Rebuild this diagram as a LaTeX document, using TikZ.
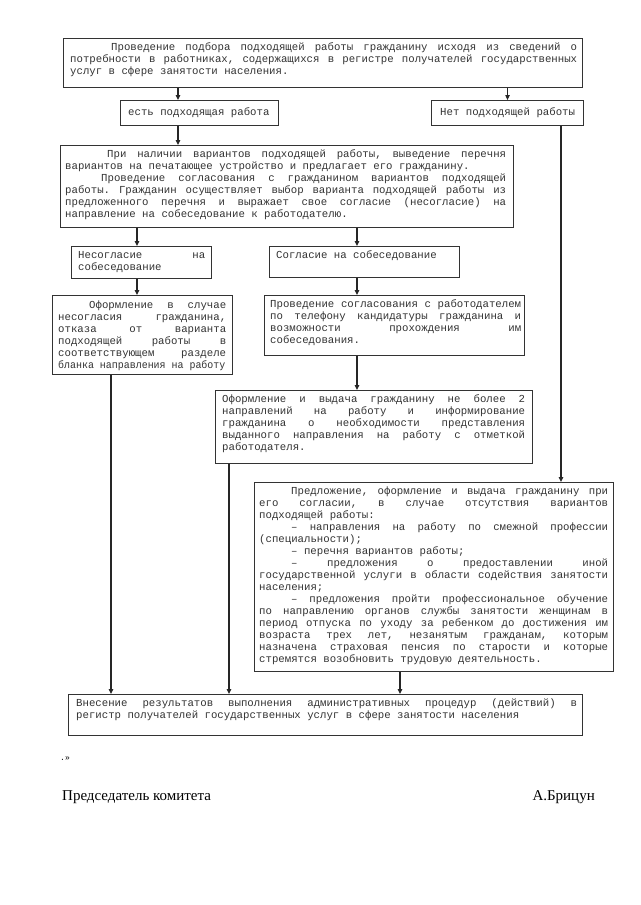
\documentclass[tikz,border=0pt]{standalone}
\usepackage{fontspec}
\usepackage{graphicx}
\setmainfont{Liberation Serif}
\newfontfamily\courfam{Liberation Mono}
\usetikzlibrary{arrows.meta}
\newcommand\boxfont{\courfam\fontsize{10.7}{12}\selectfont\frenchspacing
  \spaceskip=6.42pt plus 100pt\relax\xspaceskip=6.42pt plus 100pt\relax
  \leftskip=0pt\relax\rightskip=0pt\relax
  \parfillskip=0pt plus 1fil\relax\tolerance=10000\hbadness=10000
  \hyphenpenalty=10000\exhyphenpenalty=10000\parindent=0pt\relax}
\newcommand\ind[1]{\noindent\hspace*{#1}}
\begin{document}
\begin{tikzpicture}[x=1pt,y=-1pt,
  box/.style={draw=black!80, line width=1.1pt, inner sep=0pt, anchor=north west},
  txt/.style={anchor=base west, inner sep=0pt, align=justify, text=black!80, text width=#1},
  lbl/.style={anchor=base west, inner sep=0pt, text=black!80},
  arr/.style={draw=black!85, line width=1.1pt, -{Triangle[length=5pt,width=4.5pt]}}]
\fill[white] (0,0) rectangle (640,905);
\useasboundingbox (0,0) rectangle (640,905);

% boxes
\node[box, minimum width=519pt, minimum height=49pt] (b1) at (63,38) {};
\node[box, minimum width=158pt, minimum height=25pt] (b2) at (120,100) {};
\node[box, minimum width=152pt, minimum height=25pt] (b3) at (431,100) {};
\node[box, minimum width=453pt, minimum height=82pt] (b4) at (60,145) {};
\node[box, minimum width=140pt, minimum height=32pt] (b5) at (71,246) {};
\node[box, minimum width=190pt, minimum height=31pt] (b6) at (269,246) {};
\node[box, minimum width=180pt, minimum height=79pt] (b7) at (52,295) {};
\node[box, minimum width=260pt, minimum height=60pt] (b8) at (264,295) {};
\node[box, minimum width=317pt, minimum height=73pt] (b9) at (215,390) {};
\node[box, minimum width=359pt, minimum height=189pt] (b10) at (254,482) {};
\node[box, minimum width=514pt, minimum height=41pt] (b11) at (68,694) {};

% texts
\node[txt=507pt] (t1) at (70,50.5) {\boxfont\ind{41pt}Проведение подбора подходящей работы гражданину исходя из сведений о\linebreak потребности в работниках, содержащихся в регистре получателей государственных\linebreak услуг в сфере занятости населения.};
\node[lbl] (t2) at (128,115.5) {\boxfont есть подходящая работа};
\node[lbl] (t3) at (440,115.5) {\boxfont Нет подходящей работы};
\node[txt=441pt] (t4) at (65,157.5) {\boxfont\ind{42pt}При наличии вариантов подходящей работы, выведение перечня\linebreak вариантов на печатающее устройство и предлагает его гражданину.\par
\ind{36pt}Проведение согласования с гражданином вариантов подходящей\linebreak работы. Гражданин осуществляет выбор варианта подходящей работы из\linebreak предложенного перечня и выражает свое согласие (несогласие) на\linebreak направление на собеседование к работодателю.};
\node[txt=127pt] (t5) at (78,258.5) {\boxfont Несогласие на\linebreak собеседование};
\node[lbl] (t6) at (276,258.5) {\boxfont Согласие на собеседование};
\node[txt=168pt] (t7) at (58,308.5) {\boxfont\ind{31pt}Оформление в случае\linebreak несогласия гражданина,\linebreak отказа от варианта\linebreak подходящей работы в\linebreak соответствующем разделе\linebreak \scalebox{0.93}[1]{бланка направления на работу}};
\node[txt=251pt] (t8) at (270,307.5) {\boxfont Проведение согласования с работодателем\linebreak по телефону кандидатуры гражданина и\linebreak возможности прохождения им\linebreak собеседования.};
\node[txt=303pt] (t9) at (222,402.5) {\boxfont Оформление и выдача гражданину не более 2\linebreak направлений на работу и информирование\linebreak гражданина о необходимости представления\linebreak выданного направления на работу с отметкой\linebreak работодателя.};
\node[txt=349pt] (t10) at (259,494.5) {\boxfont\ind{32pt}Предложение, оформление и выдача гражданину при\linebreak его согласии, в случае отсутствия вариантов\linebreak подходящей работы:\par
\ind{32pt}– направления на работу по смежной профессии\linebreak (специальности);\par
\ind{32pt}– перечня вариантов работы;\par
\ind{32pt}– предложения о предоставлении иной\linebreak государственной услуги в области содействия занятости\linebreak населения;\par
\ind{32pt}– предложения пройти профессиональное обучение\linebreak по направлению органов службы занятости женщинам в\linebreak период отпуска по уходу за ребенком до достижения им\linebreak возраста трех лет, незанятым гражданам, которым\linebreak назначена страховая пенсия по старости и которые\linebreak стремятся возобновить трудовую деятельность.};
\node[txt=501pt] (t11) at (76,706.5) {\boxfont Внесение результатов выполнения административных процедур (действий) в\linebreak регистр получателей государственных услуг в сфере занятости населения};

% columns for connectors
\coordinate (c178) at (178,0);
\coordinate (c561) at (561,0);
\coordinate (c137) at (137,0);
\coordinate (c357) at (357,0);
\coordinate (c111) at (111,0);
\coordinate (c229) at (229,0);
\coordinate (c400) at (400,0);

\draw[arr] (c178 |- b1.south) -- (c178 |- b2.north);
\draw[arr] (b3.north |- b1.south) -- (b3.north);
\draw[arr] (c178 |- b2.south) -- (c178 |- b4.north);
\draw[arr] (c561 |- b3.south) -- (c561 |- b10.north);
\draw[arr] (c137 |- b4.south) -- (c137 |- b5.north);
\draw[arr] (c357 |- b4.south) -- (c357 |- b6.north);
\draw[arr] (c137 |- b5.south) -- (c137 |- b7.north);
\draw[arr] (c357 |- b6.south) -- (c357 |- b8.north);
\draw[arr] (c357 |- b8.south) -- (c357 |- b9.north);
\draw[arr] (c111 |- b7.south) -- (c111 |- b11.north);
\draw[arr] (c229 |- b9.south) -- (c229 |- b11.north);
\draw[arr] (c400 |- b10.south) -- (c400 |- b11.north);

% footer
\node[anchor=base west, inner sep=0pt, font=\courfam\fontsize{8}{9}\selectfont] (q) at (60,760) {.»};
\node[anchor=base west, inner sep=0pt, font=\fontsize{15}{17}\selectfont] (s1) at (62,800) {Председатель комитета};
\node[anchor=base east, inner sep=0pt, font=\fontsize{15}{17}\selectfont] (s2) at (595,800) {А.Брицун};
\end{tikzpicture}
\end{document}
